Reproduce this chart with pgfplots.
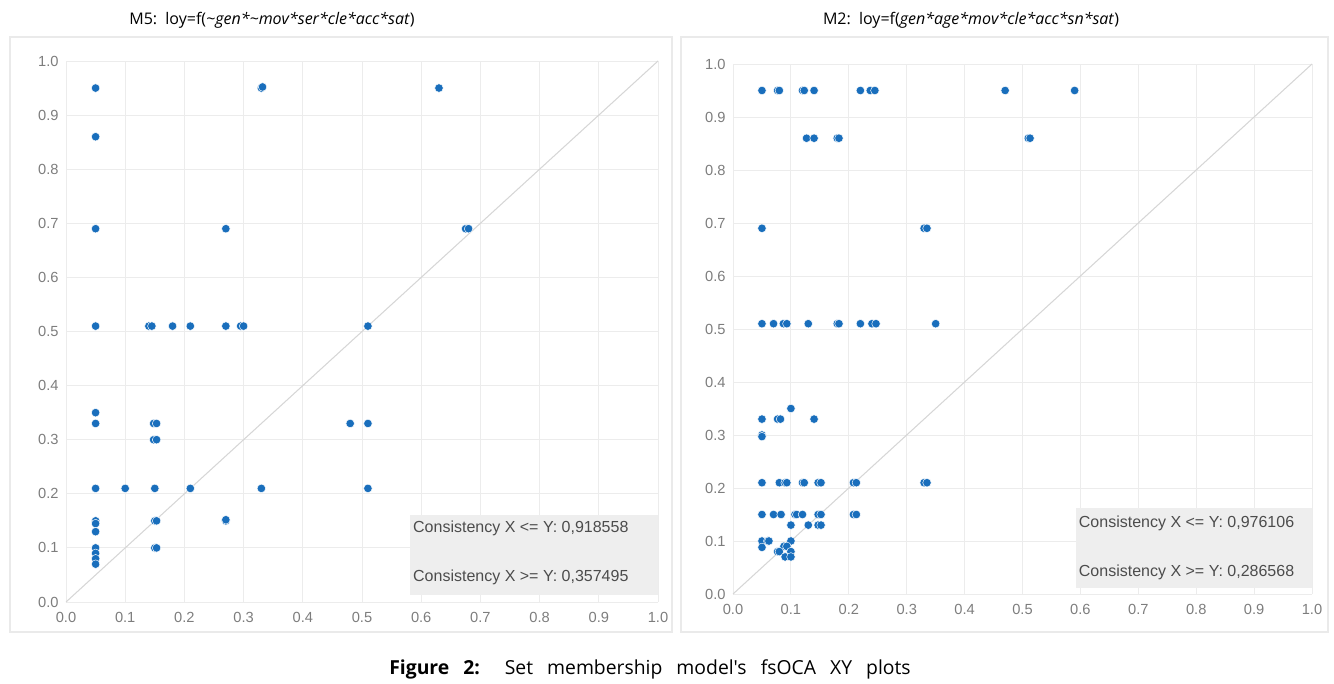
\documentclass[border=0pt]{standalone}
\usepackage{fontspec}
\setmainfont{Liberation Sans}
\newfontfamily\titlefont{Open Sans}
\usepackage{pgfplots}
\pgfplotsset{compat=1.18}
\definecolor{dot}{RGB}{25,110,188}
\definecolor{tickc}{RGB}{125,125,125}
\definecolor{gridc}{RGB}{236,236,236}
\definecolor{diag}{RGB}{214,214,214}
\definecolor{boxc}{RGB}{238,238,238}
\definecolor{framec}{RGB}{234,234,234}

\pgfplotsset{fsplot/.style={
  scale only axis, xmin=0, xmax=1, ymin=0, ymax=1,
  xtick={0,0.1,0.2,0.3,0.4,0.5,0.6,0.7,0.8,0.9,1},
  ytick={0,0.1,0.2,0.3,0.4,0.5,0.6,0.7,0.8,0.9,1},
  grid=major, major grid style={gridc, line width=0.7pt},
  axis line style={draw=none}, major tick length=0pt,
  tick label style={font=\fontsize{11}{12}\selectfont, text=tickc},
  xticklabel style={yshift=-4pt}, yticklabel style={xshift=-2pt},
  /pgf/number format/fixed, /pgf/number format/fixed zerofill,
  /pgf/number format/precision=1, /pgf/number format/assume math mode=true,
  clip=false},
  dots/.style={only marks, mark=*, mark size=3.2pt,
  mark options={fill=dot, draw=white, line width=0.35pt}}}
\tikzset{cons/.style={anchor=west, inner sep=0pt, font=\fontsize{12}{13}\selectfont, text=black!70}}

\begin{document}
\begin{tikzpicture}
\useasboundingbox (0,0) rectangle (1000.5pt,512.25pt);
\draw[framec, line width=0.8pt] (7.5pt,38.25pt) rectangle (504pt,484.5pt);
\draw[framec, line width=0.8pt] (510.75pt,38.25pt) rectangle (996pt,484.5pt);

\node[font=\titlefont\fontsize{12}{14}\selectfont] at (204pt,497.25pt)
  {M5:\, loy=f(\textit{\textasciitilde gen*\textasciitilde mov*ser*cle*acc*sat})};
\node[font=\titlefont\fontsize{12}{14}\selectfont] at (728.25pt,497.25pt)
  {M2:\, loy=f(\textit{gen*age*mov*cle*acc*sn*sat})};
\node[font=\titlefont\fontsize{14.5}{16}\selectfont] at (487.5pt,10pt)
  {\makebox[391pt][s]{\textbf{Figure 2:} Set membership model's fsOCA XY plots}};

% M5
\begin{axis}[fsplot, at={(49.5pt,60.75pt)}, anchor=origin, width=444pt, height=405.75pt]
\addplot[diag, line width=0.8pt] coordinates {(0,0) (1,1)};
\fill[boxc] (axis cs:0.581,0.013) rectangle (axis cs:1,0.16);
\node[cons] at (axis cs:0.586,0.137) {Consistency X <= Y: 0,918558};
\node[cons] at (axis cs:0.586,0.045) {Consistency X >= Y: 0,357495};
\addplot[dots] coordinates {
(0.05,0.95) (0.05,0.86) (0.05,0.69) (0.05,0.51) (0.05,0.35) (0.05,0.33)
(0.05,0.21) (0.05,0.15) (0.05,0.145) (0.05,0.13) (0.05,0.10) (0.05,0.09)
(0.05,0.08) (0.05,0.07)
(0.14,0.51) (0.145,0.51) (0.18,0.51) (0.21,0.51) (0.27,0.51) (0.295,0.51)
(0.30,0.51) (0.51,0.51)
(0.33,0.95) (0.332,0.952) (0.63,0.95) (0.27,0.69) (0.675,0.69) (0.68,0.69)
(0.148,0.33) (0.153,0.33) (0.148,0.30) (0.153,0.30) (0.48,0.33) (0.51,0.33)
(0.10,0.21) (0.15,0.21) (0.21,0.21) (0.33,0.21) (0.51,0.21)
(0.15,0.15) (0.153,0.15) (0.27,0.15) (0.27,0.152) (0.15,0.10) (0.153,0.10)
};
\end{axis}

% M2
\begin{axis}[fsplot, at={(549.75pt,66.75pt)}, anchor=origin, width=434.25pt, height=397.5pt]
\addplot[diag, line width=0.8pt] coordinates {(0,0) (1,1)};
\fill[boxc] (axis cs:0.592,0.011) rectangle (axis cs:1,0.162);
\node[cons] at (axis cs:0.597,0.134) {Consistency X <= Y: 0,976106};
\node[cons] at (axis cs:0.597,0.040) {Consistency X >= Y: 0,286568};
\addplot[dots] coordinates {
(0.05,0.95) (0.077,0.95) (0.08,0.95) (0.12,0.95) (0.123,0.95) (0.14,0.95)
(0.22,0.95) (0.237,0.95) (0.245,0.95) (0.47,0.95) (0.59,0.95)
(0.127,0.86) (0.14,0.86) (0.18,0.86) (0.183,0.86) (0.51,0.86) (0.513,0.86)
(0.05,0.69) (0.33,0.69) (0.335,0.69)
(0.05,0.51) (0.07,0.51) (0.087,0.51) (0.093,0.51) (0.13,0.51) (0.18,0.51)
(0.183,0.51) (0.22,0.51) (0.24,0.51) (0.247,0.51) (0.35,0.51)
(0.10,0.35)
(0.05,0.33) (0.077,0.33) (0.082,0.33) (0.14,0.33)
(0.05,0.30) (0.05,0.297)
(0.05,0.21) (0.08,0.21) (0.09,0.21) (0.093,0.21) (0.12,0.21) (0.123,0.21)
(0.147,0.21) (0.152,0.21) (0.208,0.21) (0.213,0.21) (0.33,0.21) (0.335,0.21)
(0.05,0.15) (0.07,0.15) (0.083,0.15) (0.107,0.15) (0.11,0.15) (0.12,0.15)
(0.147,0.15) (0.152,0.15) (0.208,0.15) (0.213,0.15)
(0.10,0.13) (0.13,0.13) (0.147,0.13) (0.152,0.13)
(0.05,0.10) (0.06,0.10) (0.062,0.10) (0.10,0.10)
(0.05,0.088) (0.088,0.09) (0.093,0.09)
(0.077,0.08) (0.08,0.08) (0.10,0.08)
(0.09,0.07) (0.10,0.07)
};
\end{axis}
\end{tikzpicture}
\end{document}
